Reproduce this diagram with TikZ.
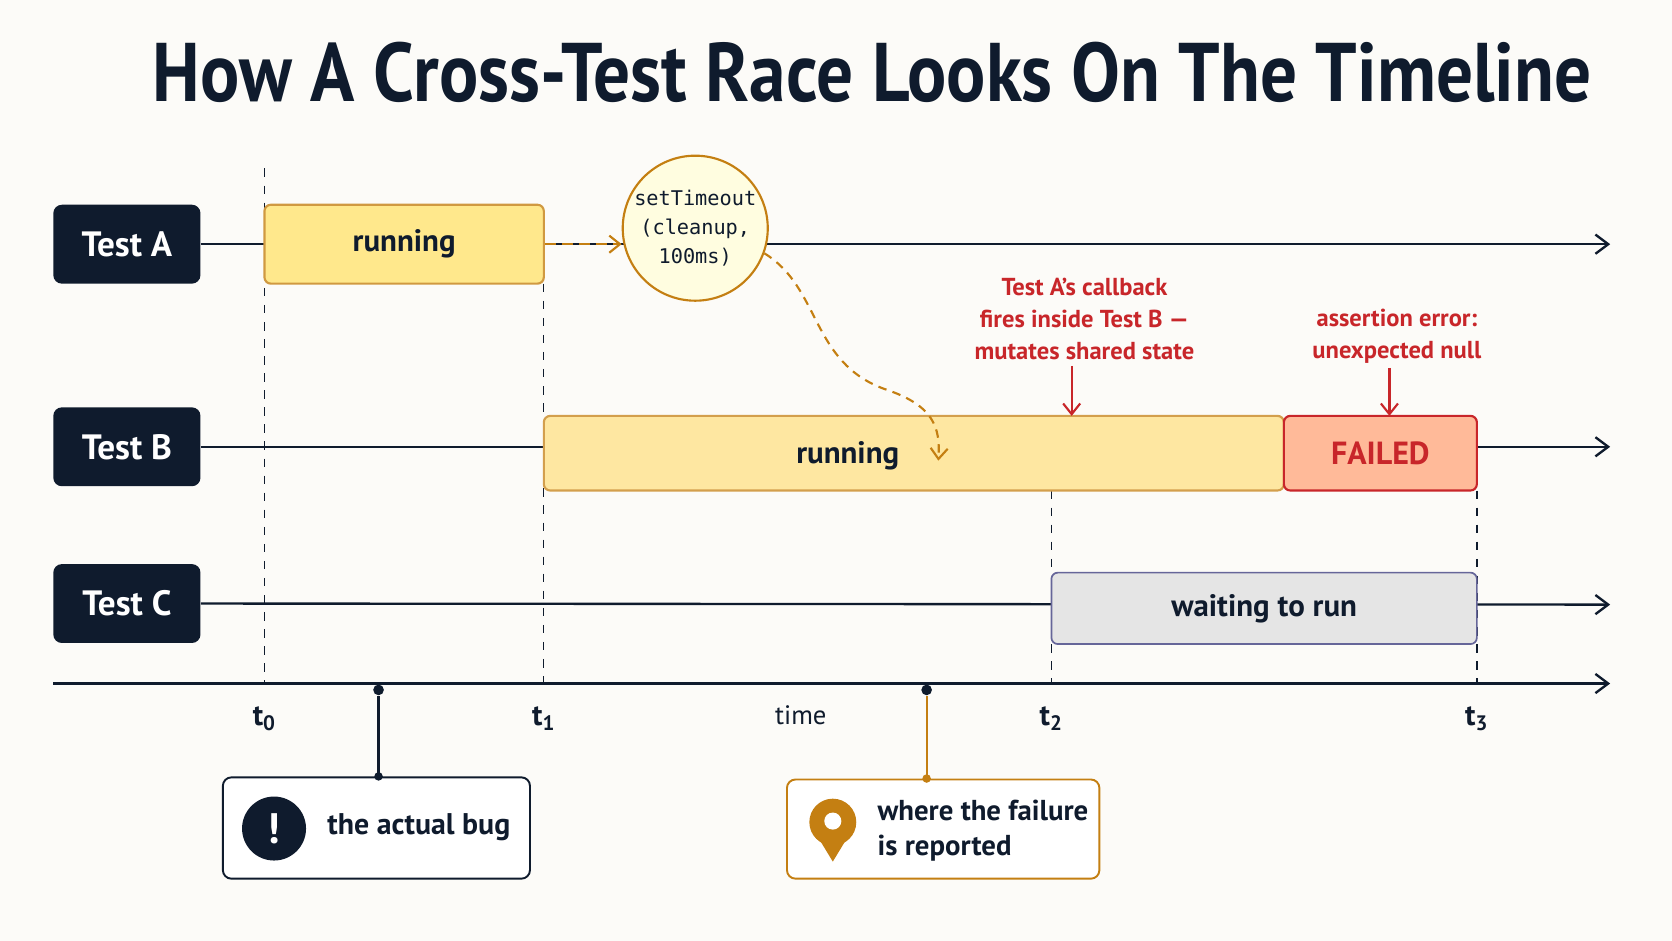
\documentclass[tikz,border=0pt]{standalone}
\usepackage{fontspec}
\setmainfont{PT Sans}
\setmonofont{DejaVu Sans Mono}
\usetikzlibrary{arrows.meta}
\definecolor{navy}{HTML}{0F1B2D}
\definecolor{bg}{HTML}{FCFBF8}
\definecolor{org}{HTML}{C47F12}
\definecolor{redt}{HTML}{C8262A}
\begin{document}
\begin{tikzpicture}[x=0.5pt,y=-0.5pt,
 lab/.style={fill=navy,rounded corners=4pt,minimum width=69pt,minimum height=37pt,text=white,font=\fontsize{16.5}{18}\selectfont\bfseries,inner sep=0},
 bar/.style={rounded corners=3pt,line width=1pt,inner sep=0,font=\fontsize{14.5}{16}\selectfont\bfseries},
 ln/.style={line width=1.1pt,navy,-{Straight Barb[length=6pt,width=9pt]}},
 vd/.style={navy,dashed,dash pattern=on 4pt off 4pt,line width=0.6pt},
 red/.style={text=redt,font=\fontsize{11.5}{15}\selectfont\bfseries,align=center},
 tl/.style={font=\fontsize{14}{15}\selectfont\bfseries,text=navy}]
\fill[bg] (0,0) rectangle (1568,882);
\useasboundingbox (0,0) rectangle (1568,882);
\node[text=navy,font=\fontsize{39}{45}\selectfont\bfseries,xscale=0.88,transform shape] (title) at (818,68) {How A Cross-Test Race Looks On The Timeline};
% labels
\node[lab] (la) at (119,229) {Test A};
\node[lab] (lb) at (119,419) {Test B};
\node[lab] (lc) at (119,566) {Test C};
\coordinate (ea) at (1510,229);
\coordinate (eb) at (1510,419);
\coordinate (ec) at (1510,567);
\draw[ln] (la.east) -- (ea);
\draw[ln] (lb.east) -- (eb);
\draw[ln] (lc.east) -- (ec);
\coordinate (ax0) at (50,641); \coordinate (ax1) at (1510,641);
\draw[ln] (ax0) -- (ax1);
% dashed verticals
\coordinate (v0a) at (248,158); \coordinate (v0b) at (248,641);
\coordinate (v1a) at (510,266); \coordinate (v1b) at (510,641);
\coordinate (v2a) at (986,460); \coordinate (v2b) at (986,641);
\coordinate (v3a) at (1385,460); \coordinate (v3b) at (1385,641);
\draw[vd] (v0a)--(v0b); \draw[vd] (v1a)--(v1b); \draw[vd] (v2a)--(v2b); \draw[vd] (v3a)--(v3b);
% bars
\node[bar,draw=org!80,fill=orange!40!yellow!45,minimum width=131pt,minimum height=37pt,text=navy] (ra) at (379,229) {running};
\node[bar,draw=org!75,fill=yellow!55!orange!35,minimum width=347pt,minimum height=35pt] (rb) at (857,425) {};
\node[text=navy,font=\fontsize{14.5}{16}\selectfont\bfseries] (rbt) at (795,427) {running};
\node[bar,draw=redt,fill=red!35!orange!40,minimum width=90.5pt,minimum height=35pt,text=redt,font=\fontsize{15}{17}\selectfont\bfseries] (fb) at (1294.5,425) {FAILED};
\node[bar,draw=gray!80!blue,fill=gray!20,minimum width=199.5pt,minimum height=33.5pt,text=navy,line width=0.8pt] (wc) at (1185.5,570.5) {waiting to run};
% timeout circle
\node[circle,draw=org,fill=orange!10!yellow!12,line width=1pt,minimum size=68pt,inner sep=0,align=center,font=\ttfamily\fontsize{9.5}{13.5}\selectfont,text=navy] (to) at (652,214) {setTimeout\\(cleanup,\\100ms)};
\draw[org,line width=1pt,dash pattern=on 5pt off 3pt,-{Straight Barb[length=5pt,width=8pt]}] (ra.east) -- (to.west |- ra.east);
\coordinate (cb) at (880,432);
\draw[org,line width=1pt,dash pattern=on 4pt off 3pt,-{Straight Barb[length=5pt,width=8pt]}] (to.-20) .. controls (770,270) and (760,340) .. (830,365) .. controls (875,380) and (882,400) .. (cb);
% red notes
\node[red] (n1) at (1017,299) {Test A’s callback\\fires inside Test B —\\mutates shared state};
\node[red] (n2) at (1310,315) {assertion error:\\unexpected null};
\coordinate (n1t) at (1005,390); \coordinate (n2t) at (1303,390);
\draw[redt,line width=1pt,-{Straight Barb[length=5pt,width=8pt]}] (1005,343) -- (n1t);
\draw[redt,line width=1pt,-{Straight Barb[length=5pt,width=8pt]}] (1303,345) -- (n2t);
% time labels
\node[tl] (t0) at (248,674) {t\textsubscript{0}};
\node[tl] (t1) at (510,674) {t\textsubscript{1}};
\node[tl,font=\fontsize{12.5}{14}\selectfont] (tm) at (751,671) {time};
\node[tl] (t2) at (986,674) {t\textsubscript{2}};
\node[tl] (t3) at (1385,674) {t\textsubscript{3}};
% callout boxes
\node[draw=navy,line width=0.9pt,rounded corners=4pt,fill=white,minimum width=144pt,minimum height=47.5pt] (bug) at (353,776.5) {};
\node[circle,fill=navy,minimum size=30pt,inner sep=0,text=white,font=\fontsize{20}{20}\selectfont\bfseries] (bi) at (257,777) {!};
\node[anchor=west,text=navy,font=\fontsize{14}{16}\selectfont\bfseries] (bt) at (300,776) {the actual bug};
\node[draw=org,line width=0.9pt,rounded corners=4pt,fill=white,minimum width=146.5pt,minimum height=46.5pt] (rep) at (884.5,777.5) {};
\fill[org] (764,780) -- (798,780) -- (781,808) -- cycle;
\node[circle,fill=org,minimum size=22pt,inner sep=0] (pin) at (781,771) {};
\node[circle,fill=white,minimum size=8pt,inner sep=0] (pinh) at (781,770) {};
\node[anchor=west,text=navy,font=\fontsize{13.5}{16.5}\selectfont\bfseries,align=left] (rt) at (816,779) {where the failure\\is reported};
% markers
\node[circle,fill=navy,minimum size=5pt,inner sep=0] (d1) at (355,647) {};
\node[circle,fill=navy,minimum size=5pt,inner sep=0] (d2) at (869,647) {};
\draw[navy,line width=1pt] (d1) -- (d1 |- bug.north) node[circle,fill=navy,minimum size=4pt,inner sep=0]{};
\draw[org,line width=1pt] (d2) -- (d2 |- rep.north) node[circle,fill=org,minimum size=4pt,inner sep=0]{};
\end{tikzpicture}
\end{document}
